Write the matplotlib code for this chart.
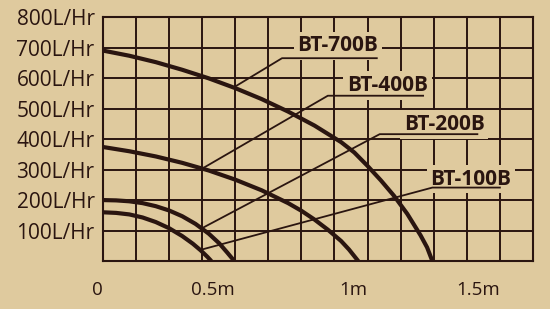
import numpy as np
import matplotlib
matplotlib.use('Agg')
import matplotlib.pyplot as plt

# Pump curves: head (m) vs flow (L/Hr)
bt700_head = [0, 0.1, 0.2, 0.3, 0.4, 0.5, 0.6, 0.7, 0.8, 0.9, 0.95, 1.0, 1.05, 1.1, 1.15, 1.2, 1.225, 1.245]
bt700_flow = [690, 673, 652, 627, 599, 567, 531, 490, 444, 390, 356, 312, 265, 214, 155, 85, 45, 0]

bt400_head = [0, 0.1, 0.2, 0.3, 0.4, 0.5, 0.6, 0.7, 0.75, 0.8, 0.85, 0.9, 0.93, 0.965]
bt400_flow = [374, 360, 343, 322, 297, 267, 232, 190, 165, 136, 103, 66, 38, 0]

bt200_head = [0, 0.05, 0.1, 0.15, 0.2, 0.25, 0.3, 0.35, 0.4, 0.44, 0.47, 0.497]
bt200_flow = [200, 199, 196, 190, 180, 166, 147, 122, 90, 58, 28, 0]

bt100_head = [0, 0.05, 0.1, 0.15, 0.2, 0.25, 0.3, 0.34, 0.37, 0.395, 0.41]
bt100_flow = [160, 158, 153, 143, 128, 108, 82, 57, 35, 14, 0]

# leader lines (curve point -> elbow -> end of underline)
lead700_x = [0.494, 0.677, 1.035]
lead700_y = [569, 665, 665]
lead400_x = [0.375, 0.85, 1.21]
lead400_y = [303, 542, 542]
lead200_x = [0.375, 1.046, 1.415]
lead200_y = [108, 416, 416]
lead100_x = [0.37, 1.245, 1.5]
lead100_y = [37, 241, 241]

labels = ['BT-700B', 'BT-400B', 'BT-200B', 'BT-100B']
label_x = [0.888, 1.076, 1.29, 1.39]
label_y = [687, 557, 429, 251]

x_tick_vals = [0, 0.5, 1.0, 1.5]
x_tick_text = ['0', '0.5m', '1m', '1.5m']
y_tick_vals = [100, 200, 300, 400, 500, 600, 700, 800]
y_tick_text = ['100L/Hr', '200L/Hr', '300L/Hr', '400L/Hr', '500L/Hr', '600L/Hr', '700L/Hr', '800L/Hr']

bg = '#dfca9e'
ink = '#2a1510'

plt.rcParams['font.family'] = ['Open Sans', 'DejaVu Sans']

fig = plt.figure(figsize=(5.5, 3.09), dpi=100, facecolor=bg)
ax = fig.add_axes([0.187, 0.155, 0.782, 0.79])
ax.set_facecolor(bg)

# grid
ax.set_xlim(0, 1.625)
ax.set_ylim(0, 800)
ax.set_xticks(np.arange(0, 1.626, 0.125), minor=True)
ax.set_xticks(x_tick_vals)
ax.set_xticklabels(x_tick_text, fontsize=13.5, color=ink)
ax.set_yticks(y_tick_vals)
ax.set_yticklabels(y_tick_text, fontsize=15, color=ink)
for lab in ax.get_xticklabels():
    lab.set_ha('right')
ax.tick_params(axis='both', which='both', length=0)
ax.tick_params(axis='x', pad=14)
ax.tick_params(axis='y', pad=6)
ax.grid(True, which='both', color=ink, lw=1.4)
ax.set_axisbelow(True)
for s in ax.spines.values():
    s.set_color(ink)
    s.set_linewidth(1.5)

# curves
for hx, fy in [(bt700_head, bt700_flow), (bt400_head, bt400_flow),
               (bt200_head, bt200_flow), (bt100_head, bt100_flow)]:
    ax.plot(hx, fy, color=ink, lw=3.0, solid_capstyle='butt',
            solid_joinstyle='round', zorder=3)

# labels with leaders
for t, lx, ly in zip(labels, label_x, label_y):
    ax.text(lx, ly, t, fontsize=15, fontweight='bold', color=ink,
            ha='center', va='baseline', zorder=4,
            bbox=dict(boxstyle='square,pad=0.18', fc=bg, ec='none'))
for lx, ly in [(lead700_x, lead700_y), (lead400_x, lead400_y),
               (lead200_x, lead200_y), (lead100_x, lead100_y)]:
    ax.plot(lx, ly, color=ink, lw=1.3, zorder=5)

fig.savefig('out.png', dpi=100, facecolor=bg)
